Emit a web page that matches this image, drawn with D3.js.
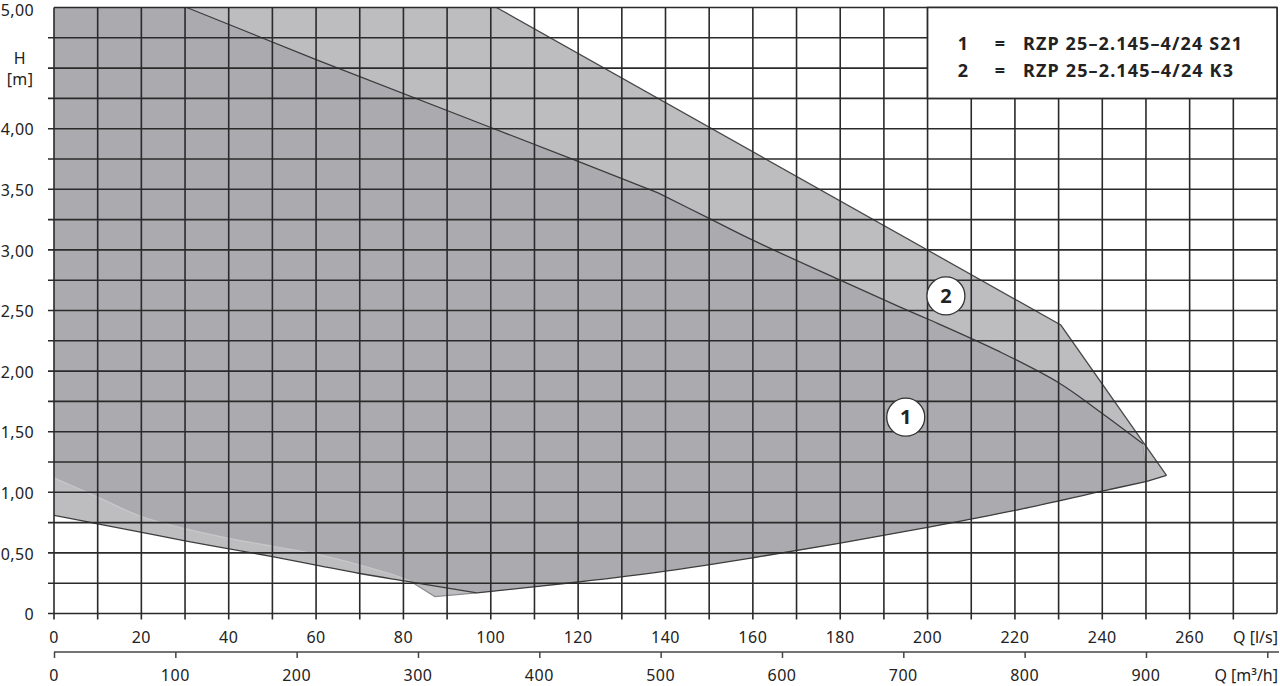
<!DOCTYPE html>
<html>
<head>
<meta charset="utf-8">
<script src="https://cdn.jsdelivr.net/npm/d3@7/dist/d3.min.js"></script>
<style>
  html, body { margin: 0; padding: 0; background: #fff; }
  svg { display: block; }
  text { font-family: "Noto Sans", sans-serif; fill: #222; }
</style>
</head>
<body>
<svg id="chart" width="1280" height="686"></svg>
<script>
// ---------- data (Q in l/s, H in m) ----------
const curve1UpperStraight = [[30.4,5.00],[60,4.57],[100,4.01],[120,3.73],[138.3,3.47]];
const curve1UpperCurved = [[138.3,3.47],[150,3.26],[160,3.08],[180,2.75],[193.6,2.53],[200,2.43],[216.5,2.16],[230.2,1.90],[240,1.65],[249.3,1.40]];
const curve1RightEdge = [[249.3,1.40],[250.2,1.09]];
const curve1LowerLeft = [[0,0.81],[10,0.74],[30,0.60],[50,0.47],[60,0.40],[70,0.33],[80,0.27],[82.5,0.255]];
const curve1LowerDip = [[82.5,0.255],[96.8,0.17]];
const curve2Upper = [[101.3,5.00],[230.5,2.38],[254.7,1.14]];
const curve2LowerLeft = [[0,1.12],[10,0.96],[20,0.80],[30,0.70],[40,0.62],[50,0.555],[60,0.49],[70,0.40],[80,0.29],[82.5,0.245]];
const curve2LowerDip = [[82.5,0.245],[87.2,0.14],[96.8,0.17]];
const sharedLower1 = [[96.8,0.17],[120,0.26],[140,0.35],[160,0.46],[180,0.58],[200,0.71],[220,0.85],[240,1.01],[250.2,1.09]];
const sharedLowerTip = [[250.2,1.09],[254.7,1.14]];
const qGrid = d3.range(0, 280, 10);
const qLabels = [0,20,40,60,80,100,120,140,160,180,200,220,240,260];
const hGrid = d3.range(0, 5.001, 0.25);
const hLabels = [5,4,3.5,3,2.5,2,1.5,1,0.5,0];
const m3hTicks = [0,100,200,300,400,500,600,700,800,900,1000];
const m3hLabels = [0,100,200,300,400,500,600,700,800,900];
const legendItems = [["1","RZP 25–2.145–4/24 S21"],["2","RZP 25–2.145–4/24 K3"]];
const markers = [["1",195,1.62],["2",204.2,2.62]];

// ---------- scales ----------
const x = d3.scaleLinear().domain([0, 280]).range([54, 1277]);
const y = d3.scaleLinear().domain([0, 5]).range([613.5, 7.5]);
const xm = d3.scaleLinear().domain([0, 280*3.6]).range([54, 1277]);

const svg = d3.select("#chart");
const gridColor = "#2a2a2a";

svg.append("defs").append("clipPath").attr("id","plotclip")
  .append("rect").attr("x", x(0)).attr("y", y(5)-1).attr("width", x(280)-x(0)).attr("height", y(0)-y(5)+1);

const LIN = d3.curveLinear, CR = d3.curveCatmullRom.alpha(0.5);
const seg = (pts, c) => d3.line().x(d => x(d[0])).y(d => y(d[1])).curve(c)(pts);
const rev = a => a.slice().reverse();
const joinSegs = segs => segs.map((s, i) => i === 0 ? s : "L" + s.slice(1)).join("") + "Z";

const region1 = joinSegs([
  seg([[0,5],[30.4,5]], LIN),
  seg(curve1UpperStraight, LIN),
  seg(curve1UpperCurved, CR),
  seg(curve1RightEdge, LIN),
  seg(rev(sharedLower1), CR),
  seg(rev(curve1LowerDip), LIN),
  seg(rev(curve1LowerLeft), CR)
]);
const region2 = joinSegs([
  seg([[0,5],[101.3,5]], LIN),
  seg(curve2Upper, LIN),
  seg(rev(sharedLowerTip), LIN),
  seg(rev(sharedLower1), CR),
  seg(rev(curve2LowerDip), LIN),
  seg(rev(curve2LowerLeft), CR)
]);

const fills = svg.append("g").attr("clip-path","url(#plotclip)");
fills.append("path").attr("d", region2).attr("fill","rgb(163,163,167)").attr("fill-opacity",0.72);
fills.append("path").attr("d", region1).attr("fill","rgb(163,163,167)").attr("fill-opacity",0.72);

// boundary strokes
const strokes = svg.append("g").attr("clip-path","url(#plotclip)").attr("fill","none");
strokes.append("path").attr("d", seg(curve2LowerLeft, CR)).attr("stroke","#c8c8ca").attr("stroke-width",1.2);
strokes.append("path").attr("d", seg(curve2LowerDip, LIN)).attr("stroke","#8c8c8e").attr("stroke-width",1.2);
strokes.append("path").attr("d", seg(curve1RightEdge, LIN)).attr("stroke","#9a9a9c").attr("stroke-width",1);
const dark = "#3d3d3d";
strokes.append("path").attr("d", seg(curve1UpperStraight, LIN)).attr("stroke",dark).attr("stroke-width",1.3);
strokes.append("path").attr("d", seg(curve1UpperCurved, CR)).attr("stroke",dark).attr("stroke-width",1.3);
strokes.append("path").attr("d", seg(curve2Upper, LIN)).attr("stroke","#4a4a4a").attr("stroke-width",1.3);
strokes.append("path").attr("d", seg(curve1LowerLeft, CR)).attr("stroke",dark).attr("stroke-width",1.3);
strokes.append("path").attr("d", seg(curve1LowerDip, LIN)).attr("stroke",dark).attr("stroke-width",1.3);
strokes.append("path").attr("d", seg(sharedLower1, CR)).attr("stroke",dark).attr("stroke-width",1.3);
strokes.append("path").attr("d", seg(sharedLowerTip, LIN)).attr("stroke",dark).attr("stroke-width",1.3);

// grid
const grid = svg.append("g").attr("stroke", gridColor).attr("stroke-width",1.6);
grid.selectAll("line.v").data(qGrid).join("line")
  .attr("x1", d => x(d)).attr("x2", d => x(d))
  .attr("y1", y(5)).attr("y2", y(0) + 6);
grid.append("line").attr("x1", x(280)).attr("x2", x(280)).attr("y1", y(5)).attr("y2", y(0));
grid.selectAll("line.h").data(hGrid).join("line")
  .attr("x1", d => d >= 5 ? x(0) : x(0) - 6).attr("x2", x(280))
  .attr("y1", d => y(d)).attr("y2", d => y(d));

// legend box
svg.append("rect").attr("x", x(200)).attr("y", y(5)).attr("width", x(280)-x(200)).attr("height", y(4.25)-y(5))
  .attr("fill","#fff").attr("stroke", gridColor).attr("stroke-width",1.6);
const lg = svg.append("g").attr("font-weight","bold").attr("font-size",18);
const legendLen = [219, 210];
legendItems.forEach((it, i) => {
  const yy = 50 + i*27;
  lg.append("text").attr("x", 963).attr("y", yy).attr("text-anchor","middle").text(it[0]);
  lg.append("text").attr("x", 1000).attr("y", yy).attr("text-anchor","middle").text("=");
  lg.append("text").attr("x", 1023).attr("y", yy).attr("textLength", legendLen[i]).attr("lengthAdjust","spacing").text(it[1]);
});

// y labels
const yl = svg.append("g").attr("font-size",16).attr("letter-spacing",0.4);
yl.selectAll("text").data(hLabels).join("text")
  .attr("x", 34).attr("y", d => y(d) + (d === 5 ? 2.5 : 1)).attr("dy","0.36em").attr("text-anchor","end")
  .text(d => d === 0 ? "0" : d3.format(".2f")(d).replace(".", ","));
yl.append("text").attr("x", 20).attr("y", 58).attr("dy","0.36em").attr("text-anchor","middle").text("H");
yl.append("text").attr("x", 20).attr("y", 79).attr("dy","0.36em").attr("text-anchor","middle").text("[m]");

// bottom axis l/s labels
const xl = svg.append("g").attr("font-size",16).attr("letter-spacing",0.5);
xl.selectAll("text").data(qLabels).join("text")
  .attr("x", d => x(d)).attr("y", 637).attr("dy","0.36em").attr("text-anchor","middle").text(d => d);
xl.append("text").attr("x", 1278).attr("y", 637).attr("dy","0.36em").attr("text-anchor","end").attr("letter-spacing",0).text("Q [l/s]");

// second axis m3/h
const ax2 = svg.append("g").attr("transform","translate(0,652)");
const axisM = d3.axisBottom(xm).tickValues(m3hTicks).tickSize(6).tickFormat("");
ax2.call(axisM);
ax2.select(".domain").attr("d", `M${x(0)},0H1279`).attr("stroke","#444").attr("stroke-width",1.5);
ax2.selectAll(".tick line").attr("stroke","#444").attr("stroke-width",1.5);
const ml = svg.append("g").attr("font-size",16).attr("letter-spacing",0.5);
ml.selectAll("text").data(m3hLabels).join("text")
  .attr("x", d => xm(d)).attr("y", 675).attr("dy","0.36em").attr("text-anchor","middle").text(d => d);
ml.append("text").attr("x", 1278).attr("y", 675).attr("dy","0.36em").attr("text-anchor","end").attr("letter-spacing",0).text("Q [m³/h]");

// markers
const mk = svg.append("g");
markers.forEach(m => {
  mk.append("circle").attr("cx", x(m[1])).attr("cy", y(m[2])).attr("r", 19)
    .attr("fill","#fff").attr("stroke","#333").attr("stroke-width",1.3);
  mk.append("text").attr("x", x(m[1])).attr("y", y(m[2])).attr("dy","0.36em")
    .attr("text-anchor","middle").attr("font-weight","bold").attr("font-size",20).text(m[0]);
});
</script>
</body>
</html>
